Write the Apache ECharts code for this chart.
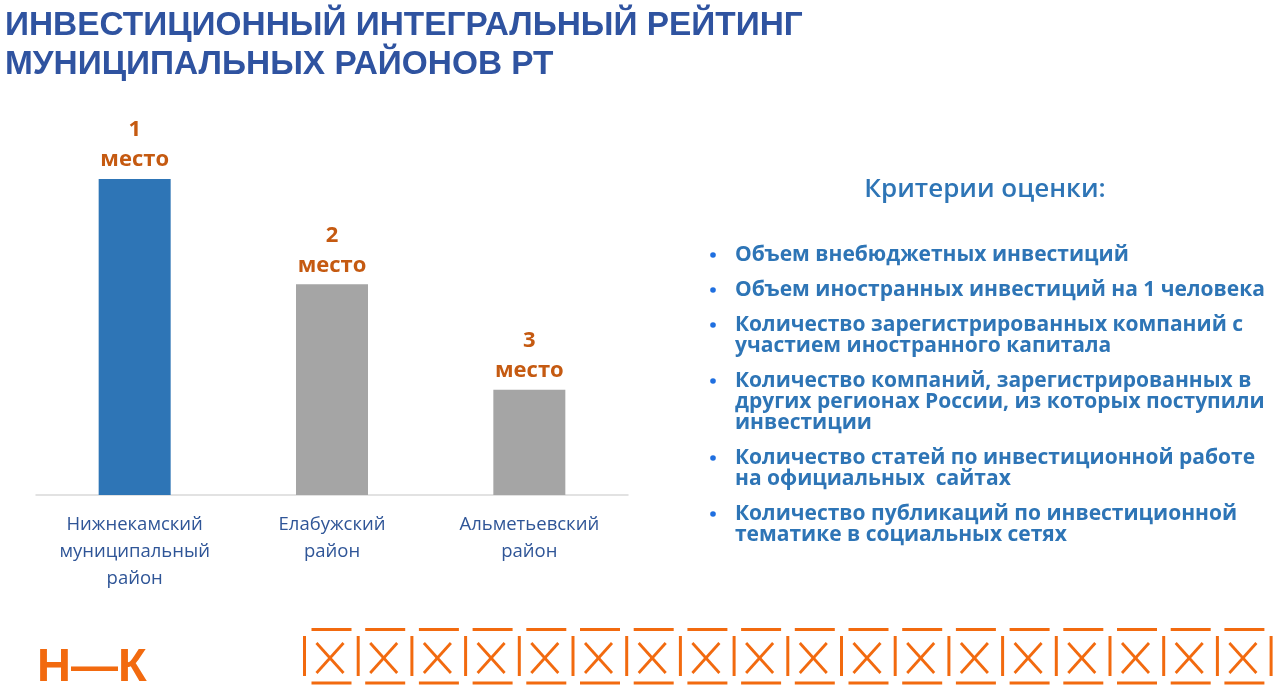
<!DOCTYPE html>
<html><head><meta charset="utf-8">
<script src="https://cdn.jsdelivr.net/npm/echarts@6/dist/echarts.min.js"></script>
<style>html,body{margin:0;padding:0;background:#fff}#c{width:1280px;height:693px}</style>
</head><body><div id="c"></div>
<script>
const titleLines = ['ИНВЕСТИЦИОННЫЙ ИНТЕГРАЛЬНЫЙ РЕЙТИНГ', 'МУНИЦИПАЛЬНЫХ РАЙОНОВ РТ'];
const categories = ['Нижнекамский\nмуниципальный\nрайон', 'Елабужский\nрайон', 'Альметьевский\nрайон'];
const values = [3, 2, 1];
const places = ['1', '2', '3'];
const criteriaTitle = 'Критерии оценки:';
const criteria = [
  ['Объем внебюджетных инвестиций'],
  ['Объем иностранных инвестиций на 1 человека'],
  ['Количество зарегистрированных компаний с', 'участием иностранного капитала'],
  ['Количество компаний, зарегистрированных в', 'других регионах России, из которых поступили', 'инвестиции'],
  ['Количество статей по инвестиционной работе', 'на официальных  сайтах'],
  ['Количество публикаций по инвестиционной', 'тематике в социальных сетях']
];

const blue = '#2E75B6', gray = '#A5A5A5', orange = '#C55A11', logoOrange = '#F26A0F';
const textFont = "'Open Sans', 'Noto Sans', sans-serif";

const graphics = [];
graphics.push({type:'text', x: 985, y: 190, style:{text: criteriaTitle, fill: blue, font: "600 26px " + textFont, textAlign:'center', textVerticalAlign:'middle'}});
let y = 255;
criteria.forEach(lines => {
  graphics.push({type:'circle', shape:{cx:713, cy:y, r:2.8}, style:{fill:'#1F6FE0'}});
  lines.forEach((ln, i) => {
    graphics.push({type:'text', x:735, y:y, style:{text: ln, fill: blue, font: "bold 21px " + textFont, textVerticalAlign:'middle'}});
    if (i < lines.length - 1) y += 21;
  });
  y += 35;
});
graphics.push({type:'text', x:37, y:668, style:{text:'Н—К', fill: logoOrange, font:"bold 47px 'Liberation Sans', Arial, sans-serif", textVerticalAlign:'middle'}});
for (let k = 0; k < 18; k++) {
  const x0 = 304.5 + k * 53.7;
  const st = {stroke: logoOrange, lineWidth: 3};
  graphics.push({type:'line', shape:{x1:x0, y1:636, x2:x0, y2:676}, style:st});
  graphics.push({type:'line', shape:{x1:x0+7, y1:629.5, x2:x0+47, y2:629.5}, style:st});
  graphics.push({type:'line', shape:{x1:x0+7, y1:683, x2:x0+47, y2:683}, style:st});
  graphics.push({type:'line', shape:{x1:x0+12, y1:643, x2:x0+39, y2:673}, style:{stroke: logoOrange, lineWidth: 2.8}});
  graphics.push({type:'line', shape:{x1:x0+39, y1:643, x2:x0+12, y2:673}, style:{stroke: logoOrange, lineWidth: 2.8}});
}
graphics.push({type:'line', shape:{x1:304.5+18*53.7, y1:636, x2:304.5+18*53.7, y2:676}, style:{stroke: logoOrange, lineWidth: 3}});

const chart = echarts.init(document.getElementById('c'));
chart.setOption({
  animation: false,
  title: {
    text: titleLines.join('\n'), left: 5, top: 6, padding: 0,
    textStyle: {fontFamily: "'Liberation Sans', Arial, sans-serif", fontWeight: 'bold', fontSize: 33.4, lineHeight: 39, color: '#2F53A0'}
  },
  grid: {left: 36, right: 652, top: 179, bottom: 198, containLabel: false},
  xAxis: {
    type: 'category', data: categories,
    axisLine: {lineStyle: {color: '#D9D9D9', width: 1.5}},
    axisTick: {show: false},
    axisLabel: {color: '#2F5597', fontFamily: textFont, fontSize: 18.5, lineHeight: 27, margin: 16, interval: 0}
  },
  yAxis: {type: 'value', min: 0, max: 3, show: false, splitLine: {show: false}},
  series: [{
    type: 'bar', barWidth: 72,
    data: values.map((v, i) => ({value: v, itemStyle: {color: i === 0 ? blue : gray}})),
    label: {
      show: true, position: 'top', distance: 4,
      formatter: p => '{n|' + places[p.dataIndex] + '}\n{m|место}',
      rich: {
        n: {fontFamily: textFont, fontWeight: 'bold', fontSize: 22, color: orange, lineHeight: 30, align: 'center'},
        m: {fontFamily: textFont, fontWeight: 'bold', fontSize: 22, color: orange, lineHeight: 30, align: 'center'}
      }
    }
  }],
  graphic: graphics
});
</script></body></html>
